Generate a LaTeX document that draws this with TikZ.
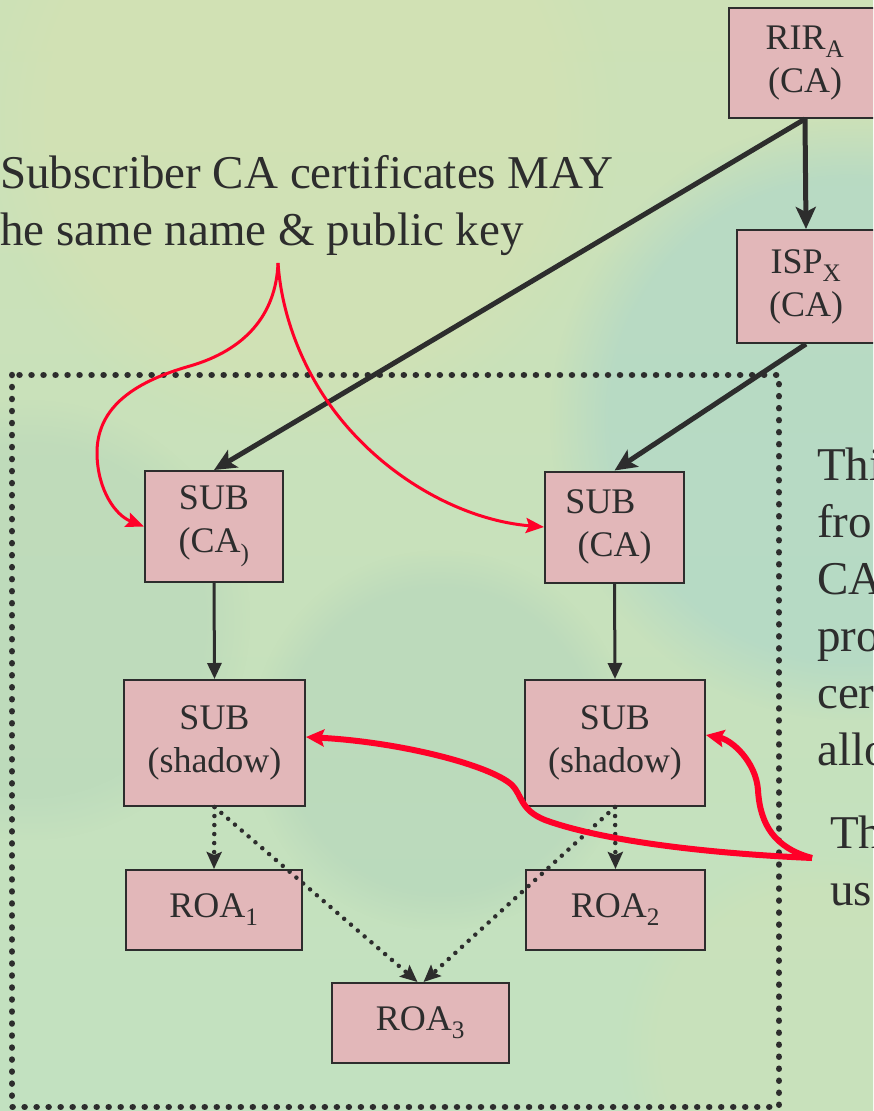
\documentclass[tikz,border=0pt]{standalone}
\usepackage{fontspec}
\setmainfont{Liberation Serif}
\usetikzlibrary{arrows.meta,fadings}

\definecolor{boxfill}{RGB}{226,183,185}
\definecolor{ink}{RGB}{45,45,45}
\definecolor{redline}{RGB}{255,0,40}
\definecolor{bgtop}{RGB}{205,225,183}
\definecolor{bgbot}{RGB}{194,225,192}
\definecolor{bgteal}{RGB}{172,214,202}
\definecolor{bgyellow}{RGB}{214,226,178}
\definecolor{bgdeep}{RGB}{176,210,186}

\tikzset{
  box/.style={draw=ink, line width=2pt, fill=boxfill, text=ink, inner sep=0pt,
    align=center, font=\fontsize{36}{43}\selectfont},
  label/.style={text=ink, inner sep=0pt, anchor=base west,
    font=\fontsize{47}{57}\selectfont},
  heavyarrow/.style={draw=ink, line width=5pt,
    -{Stealth[length=22pt,width=20pt,inset=5pt]}},
  midarrow/.style={draw=ink, line width=3pt,
    -{Triangle[length=16pt,width=14pt]}},
  dotarrow/.style={draw=ink, line width=4.5pt, line cap=round,
    dash pattern=on 0.01pt off 9pt, -{Stealth[length=17pt,width=15pt,inset=3pt]}},
  frame/.style={draw=ink, line width=6.5pt, line cap=round,
    dash pattern=on 0.01pt off 12pt},
  redthin/.style={draw=redline, line width=3pt,
    -{Stealth[length=18pt,width=15pt,inset=3pt]}},
  redthick/.style={draw=redline, line width=6pt,
    -{Stealth[length=18pt,width=17pt,inset=3pt]}},
}

\begin{document}
\begin{tikzpicture}[x=1pt,y=-1pt]
\useasboundingbox (0,0) rectangle (873,1111);
\clip (0,0) rectangle (873,1111);

% soft green background
\shade[top color=bgtop, bottom color=bgbot] (0,0) rectangle (873,1111);
\fill[bgteal, opacity=0.6, path fading=circle with fuzzy edge 20 percent]
  (850,420) circle (300);
\fill[bgyellow, opacity=0.5, path fading=circle with fuzzy edge 20 percent]
  (300,120) circle (320);
\fill[bgdeep, opacity=0.45, path fading=circle with fuzzy edge 20 percent]
  (440,740) circle (190);
\fill[bgdeep, opacity=0.35, path fading=circle with fuzzy edge 20 percent]
  (30,620) circle (220);
\fill[bgyellow, opacity=0.3, path fading=circle with fuzzy edge 20 percent]
  (820,1050) circle (200);

% dotted enclosure
\draw[frame] (12,375) rectangle (779,1107);

% certificate boxes
\node[box, minimum width=152pt, minimum height=110pt] (rir) at (805,63)
  {RIR\textsubscript{A}\\(CA)};
\node[box, minimum width=138pt, minimum height=113pt] (isp) at (806,286.5)
  {ISP\textsubscript{X}\\(CA)};
\node[box, minimum width=138pt, minimum height=111pt] (sub1) at (214,526.5)
  {SUB\\(CA\textsubscript{)}};
\node[box, minimum width=139pt, minimum height=111pt] (sub2) at (614.5,527)
  {SUB\rule{28pt}{0pt}\\(CA)};
\node[box, minimum width=181pt, minimum height=126pt] (sh1) at (214.5,743)
  {SUB\\(shadow)};
\node[box, minimum width=180pt, minimum height=126pt] (sh2) at (615,743)
  {SUB\\(shadow)};
\node[box, minimum width=176pt, minimum height=80pt] (roa1) at (214,910)
  {ROA\textsubscript{1}};
\node[box, minimum width=179pt, minimum height=80pt] (roa2) at (615.5,910)
  {ROA\textsubscript{2}};
\node[box, minimum width=177pt, minimum height=80pt] (roa3) at (420.5,1023)
  {ROA\textsubscript{3}};

% issuing relations
\draw[heavyarrow] (rir.south) -- (isp.north);
\draw[heavyarrow] (rir.south) -- (sub1.north);
\draw[heavyarrow] (isp.south) -- (sub2.north);
\draw[midarrow] (sub1.south) -- (sh1.north);
\draw[midarrow] (sub2.south) -- (sh2.north);
\draw[dotarrow] (sh1.south) -- (roa1.north);
\draw[dotarrow] (sh1.south) -- ([xshift=-3pt]roa3.north);
\draw[dotarrow] (sh2.south) -- (roa2.north);
\draw[dotarrow] (sh2.south) -- ([xshift=3pt]roa3.north);

% text
\node[label] (t1) at (0,188) {Subscriber CA certificates MAY};
\node[label] (t2) at (0,245) {he same name \& public key};
\node[label] (r1) at (817,480) {Thi};
\node[label] (r2) at (817,537) {fro};
\node[label] (r3) at (817,594) {CA};
\node[label] (r4) at (817,651) {pro};
\node[label] (r5) at (817,708) {cer};
\node[label] (r6) at (817,765) {allo};
\node[label] (r7) at (830,848) {Th};
\node[label] (r8) at (830,905) {us};

% callout curves
\coordinate (cusp) at (278,263);
\coordinate (meet) at (812,858);
\draw[redthin] (cusp) .. controls (276,315) and (245,350) .. (190,366)
  .. controls (130,383) and (96,410) .. (97,455)
  .. controls (98,490) and (115,515) .. (sub1.west);
\draw[redthin] (cusp) .. controls (282,320) and (305,370) .. (330,405)
  .. controls (380,475) and (460,520) .. (sub2.west);
\draw[redthick] (meet) .. controls (700,853) and (600,840) .. (545,820)
  .. controls (520,810) and (522,795) .. (512,785)
  .. controls (490,765) and (400,742) .. ([yshift=6pt]sh1.east);
\draw[redthick] (meet) .. controls (775,848) and (760,825) .. (758,790)
  .. controls (756,762) and (732,740) .. ([yshift=8pt]sh2.east);
\end{tikzpicture}
\end{document}
